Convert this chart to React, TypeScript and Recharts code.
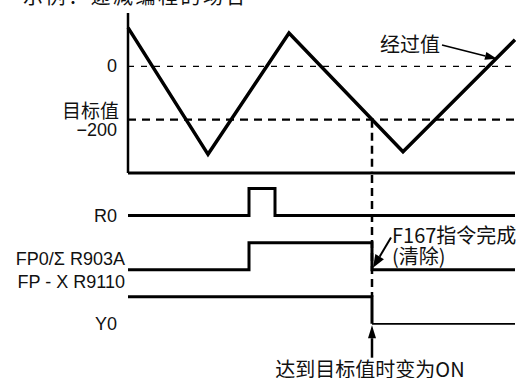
import React from 'react';
import { LineChart, Line, XAxis, YAxis, ReferenceLine } from 'recharts';

// 经过值 (递减), 横轴为时刻
const times = [0, 80, 161, 275, 387];
const elapsed = [145, -330, 125, -320, 100];
const waveTicks = [0, -200];
const targetValue = -200;
const hitTime = 244; // 经过值到达目标值

// 各信号的变化时刻和电平 (0 = OFF, 1 = ON)
const r0Times = [0, 121, 147, 387];
const r0Levels = [0, 1, 0, 0];
const flagTimes = [0, 121, 244, 387];
const flagLevels = [0, 1, 0, 0];
const y0Times = [0, 244, 387];
const y0Levels = [1, 0, 0];

// 信号行 (从下往上)
const signalTicks = [4, 2, 0];
const signalNames: Record<number, string[]> = {
  4: ['R0'],
  2: ['FP0/Σ R903A', 'FP - X R9110'],
  0: ['Y0'],
};

const timeDomain = [0, 387];
const waveDomain = [-400, 200];
const laneDomain = [-2, 5.5];

const LATIN = '"Liberation Sans", Arial, sans-serif';
const CJK = '"Noto Sans CJK SC", "Liberation Sans", sans-serif';
const INK = '#111';

const waveData = times.map((t, i) => ({ t, value: elapsed[i] }));
const lane = (ts: number[], lv: number[], base: number) =>
  ts.map((t, i) => ({ t, v: base + lv[i] }));
const r0Data = lane(r0Times, r0Levels, 4);
const flagData = lane(flagTimes, flagLevels, 2);
const y0Data = lane(y0Times, y0Levels, 0);

const fmt = (v: number) => String(v).replace('-', '−');

const WaveTick = (props: any) => {
  const { x, y, payload } = props;
  if (payload.value === targetValue) {
    return (
      <g>
        <text x={x - 1} y={y - 10} textAnchor="end" dominantBaseline="central" fontFamily={CJK} fontSize={19} fill={INK}>目标值</text>
        <text x={x - 3} y={y + 10} textAnchor="end" dominantBaseline="central" fontFamily={LATIN} fontSize={18} fill={INK}>{fmt(payload.value)}</text>
      </g>
    );
  }
  return (
    <text x={x - 3} y={y} textAnchor="end" dominantBaseline="central" fontFamily={LATIN} fontSize={18} fill={INK}>{fmt(payload.value)}</text>
  );
};

const SignalTick = (props: any) => {
  const { x, y, payload } = props;
  const names = signalNames[payload.value] || [];
  if (names.length === 2) {
    return (
      <g>
        <text x={x + 5} y={y - 11} textAnchor="end" dominantBaseline="central" fontFamily={LATIN} fontSize={18} fill={INK}>{names[0]}</text>
        <text x={x + 5} y={y + 12} textAnchor="end" dominantBaseline="central" fontFamily={LATIN} fontSize={18} fill={INK}>{names[1]}</text>
      </g>
    );
  }
  return (
    <text x={x - 3} y={y} textAnchor="end" dominantBaseline="central" fontFamily={LATIN} fontSize={18} fill={INK}>{names[0]}</text>
  );
};

function arrowHead(x1: number, y1: number, x2: number, y2: number, len: number, half: number) {
  const a = Math.atan2(y2 - y1, x2 - x1);
  const bx = x2 - len * Math.cos(a);
  const by = y2 - len * Math.sin(a);
  const px = half * Math.sin(a);
  const py = -half * Math.cos(a);
  return { bx, by, points: `${x2},${y2} ${bx + px},${by + py} ${bx - px},${by - py}` };
}

const elapsedArrow = (p: any) => {
  const { x1, y1, x2, y2 } = p;
  const h = arrowHead(x1, y1, x2, y2, 12, 4);
  return (
    <g>
      <line x1={x1} y1={y1} x2={h.bx} y2={h.by} stroke="#000" strokeWidth={1.6} />
      <polygon points={h.points} fill="#000" />
      <text x={x1 - 2} y={y1 - 2} textAnchor="end" dominantBaseline="central" fontFamily={CJK} fontSize={20} fill={INK}>经过值</text>
    </g>
  );
};

const clearArrow = (p: any) => {
  const { x1, y1, x2, y2 } = p;
  const h = arrowHead(x1, y1, x2, y2, 13, 5);
  return (
    <g>
      <line x1={x1} y1={y1} x2={h.bx} y2={h.by} stroke="#000" strokeWidth={2} />
      <polygon points={h.points} fill="#000" />
      <text x={x1 + 1} y={y1 - 3} dominantBaseline="central" fontFamily={CJK} fontSize={20} fill={INK}>F167指令完成</text>
      <text x={x1 + 1} y={y1 + 18} dominantBaseline="central" fontFamily={CJK} fontSize={20} fill={INK}>(清除)</text>
    </g>
  );
};

const onArrow = (p: any) => {
  const { x1, y1, x2, y2 } = p;
  const h = arrowHead(x1, y1, x2, y2, 13, 4);
  return (
    <g>
      <line x1={x1} y1={y1} x2={h.bx} y2={h.by} stroke="#000" strokeWidth={2.5} />
      <polygon points={h.points} fill="#000" />
      <text x={x1 - 2} y={y1 + 19} textAnchor="middle" fontFamily={CJK} fontSize={20} fill={INK}>达到目标值时变为ON</text>
    </g>
  );
};

const App = () => {
  return (
    <div style={{ position: 'absolute', left: 0, top: 0, width: 519, height: 378, overflow: 'hidden', background: '#fff' }}>
      <div style={{ position: 'absolute', left: 23, top: -14, fontFamily: CJK, fontSize: 20, lineHeight: '20px', color: INK, whiteSpace: 'nowrap', letterSpacing: 2.5 }}>
        示例：递减编程的场合
      </div>

      <div style={{ position: 'absolute', left: 0, top: 0 }}>
        <LineChart width={519} height={175} data={waveData} margin={{ top: 13, right: 4, bottom: 0, left: 0 }}>
          <XAxis type="number" dataKey="t" domain={timeDomain} tick={false} tickLine={false} height={2}
            axisLine={{ stroke: '#000', strokeWidth: 3 }} />
          <YAxis type="number" domain={waveDomain} ticks={waveTicks} interval={0} width={128} tickLine={false}
            axisLine={{ stroke: '#000', strokeWidth: 2.5 }} tick={<WaveTick />} allowDataOverflow />
          <ReferenceLine y={0} stroke="#000" strokeWidth={1.2} strokeDasharray="6 7" />
          <ReferenceLine y={targetValue} stroke="#000" strokeWidth={2.2} strokeDasharray="8 6" />
          <ReferenceLine segment={[{ x: hitTime, y: targetValue }, { x: hitTime, y: waveDomain[0] }]}
            stroke="#000" strokeWidth={2.5} strokeDasharray="8 5" />
          <Line type="linear" dataKey="value" stroke="#000" strokeWidth={3.5} dot={false} isAnimationActive={false} strokeLinejoin="miter" />
          <ReferenceLine segment={[{ x: 314, y: 80 }, { x: 369, y: 28 }]} shape={elapsedArrow} />
        </LineChart>
      </div>

      <div style={{ position: 'absolute', left: 0, top: 175 }}>
        <LineChart width={519} height={203} margin={{ top: 0, right: 4, bottom: 0, left: 0 }}>
          <XAxis type="number" dataKey="t" domain={timeDomain} hide />
          <YAxis type="number" domain={laneDomain} ticks={signalTicks} interval={0} width={128} axisLine={false}
            tickLine={false} tick={<SignalTick />} allowDataOverflow />
          <ReferenceLine segment={[{ x: hitTime, y: laneDomain[1] }, { x: hitTime, y: 1 }]}
            stroke="#000" strokeWidth={2.5} strokeDasharray="8 5" />
          <Line data={r0Data} type="stepAfter" dataKey="v" stroke="#000" strokeWidth={3} dot={false} isAnimationActive={false} />
          <Line data={flagData} type="stepAfter" dataKey="v" stroke="#000" strokeWidth={3} dot={false} isAnimationActive={false} />
          <Line data={y0Data.slice(0, 2)} type="stepAfter" dataKey="v" stroke="#000" strokeWidth={3} dot={false} isAnimationActive={false} />
          <Line data={y0Data.slice(1)} type="stepAfter" dataKey="v" stroke="#000" strokeWidth={1.7} dot={false} isAnimationActive={false} />
          <ReferenceLine segment={[{ x: 263, y: 3.19 }, { x: 245, y: 2.07 }]} shape={clearArrow} />
          <ReferenceLine segment={[{ x: hitTime, y: -1.25 }, { x: hitTime, y: -0.05 }]} shape={onArrow} />
        </LineChart>
      </div>
    </div>
  );
};

export default App;
